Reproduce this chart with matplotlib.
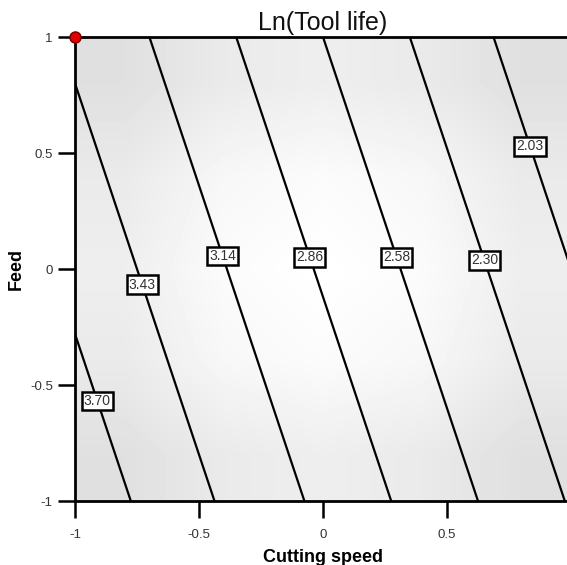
import matplotlib
matplotlib.use("Agg")
import matplotlib.pyplot as plt
import numpy as np

plt.rcParams['font.family'] = ['Liberation Sans', 'DejaVu Sans']

# Grid coordinates (coded factors)
speed = [-1.0, 0.0, 1.0]
feed = [-1.0, 0.0, 1.0]
# Ln(Tool life) read at grid points (rows: feed -1, 0, 1)
ln_life = [
    [3.88, 3.08, 2.28],
    [3.63, 2.83, 2.03],
    [3.38, 2.58, 1.78],
]
levels = [2.03, 2.30, 2.58, 2.86, 3.14, 3.43, 3.70]
level_labels = ['2.03', '2.30', '2.58', '2.86', '3.14', '3.43', '3.70']
# label anchor positions (speed, feed)
label_pos = [(0.84, 0.53), (0.66, 0.04), (0.27, 0.04), (-0.08, 0.04),
             (-0.42, 0.05), (-0.71, -0.06), (-0.89, -0.56)]
# background shading (gray levels, rows feed -1 .. 1)
shade = [
    [224, 234, 238, 234, 224],
    [234, 247, 251, 247, 234],
    [238, 251, 255, 251, 238],
    [234, 247, 251, 247, 234],
    [224, 234, 238, 234, 224],
]
design_point = (-1.0, 1.0)
xticks = [-1, -0.5, 0, 0.5]
xticklabels = ['-1', '-0.5', '0', '0.5']
yticks = [-1, -0.5, 0, 0.5, 1]
yticklabels = ['-1', '-0.5', '0', '0.5', '1']

fig = plt.figure(figsize=(5.67, 5.65), dpi=100)
ax = fig.add_axes([75/567, 64/565, 496/567, 464/565])

ax.imshow(np.array(shade), cmap='gray', vmin=0, vmax=255, origin='lower',
          extent=(-1, 1, -1, 1), interpolation='bilinear', aspect='auto', zorder=0)

X, Y = np.meshgrid(speed, feed)
cs = ax.contour(X, Y, np.array(ln_life), levels=levels, colors='black', linewidths=1.6, zorder=2)
fmt = {lv: lb for lv, lb in zip(levels, level_labels)}
texts = ax.clabel(cs, levels=levels, inline=False, fmt=fmt, fontsize=10, manual=label_pos)
for t in texts:
    t.set_rotation(0)
    t.set_color('#333333')
    t.set_bbox(dict(boxstyle='square,pad=0.15', fc='white', ec='black', lw=1.8))
    t.set_zorder(5)

ax.plot([design_point[0]], [design_point[1]], 'o', color='#e00000', mec='#700000',
        ms=8, mew=1.0, clip_on=False, zorder=10)

ax.set_xlim(-1, 1)
ax.set_ylim(-1, 1)
ax.set_xticks(xticks)
ax.set_xticklabels(xticklabels)
ax.set_yticks(yticks)
ax.set_yticklabels(yticklabels)
ax.tick_params(direction='out', length=12, width=1.8, colors='black', labelcolor='#333333',
               labelsize=9.5)
ax.tick_params(axis='x', pad=8)
ax.tick_params(axis='y', pad=4)
for s in ['left', 'top', 'bottom', 'right']:
    ax.spines[s].set_linewidth(2)

ax.set_title('Ln(Tool life)', fontsize=18, pad=5, color='#111111')
ax.set_xlabel('Cutting speed', fontsize=13, fontweight='bold', labelpad=6)
ax.set_ylabel('Feed', fontsize=13, fontweight='bold', labelpad=4)

fig.savefig('out.png', dpi=100)
